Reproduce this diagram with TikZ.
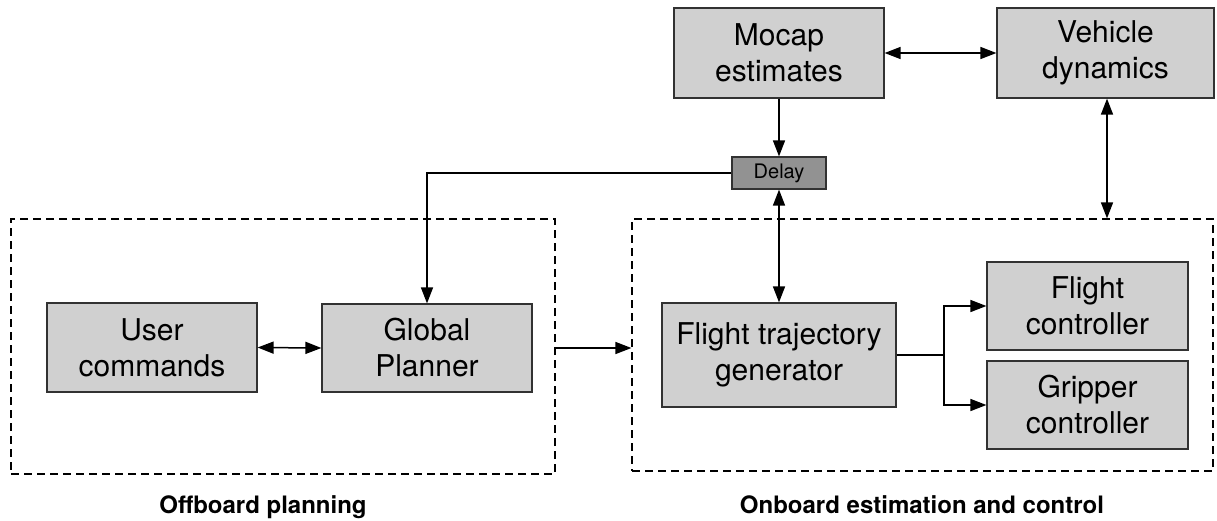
\documentclass[tikz,border=0pt]{standalone}
\usepackage{fontspec}
\setmainfont{TeX Gyre Heros}
\usetikzlibrary{arrows.meta}
\definecolor{boxfill}{RGB}{208,208,208}
\definecolor{delayfill}{RGB}{146,146,146}
\definecolor{boxline}{RGB}{50,50,50}
\begin{document}
\begin{tikzpicture}[x=1pt,y=-1pt,
  block/.style={draw=boxline,fill=boxfill,line width=1.2pt,inner sep=0pt,align=center,
    font=\fontsize{30}{36}\selectfont},
  delaybox/.style={draw=boxline,fill=delayfill,line width=1.2pt,inner sep=0pt,
    minimum width=94pt,minimum height=32pt,font=\fontsize{20}{24}\selectfont},
  frame/.style={draw=black,line width=1.2pt,dash pattern=on 8pt off 5pt,inner sep=0pt},
  conn/.style={line width=1.5pt,-{Triangle[length=16pt,width=12pt]}},
  bconn/.style={line width=1.5pt,{Triangle[length=16pt,width=12pt]}-{Triangle[length=16pt,width=12pt]}},
  caption/.style={font=\fontsize{24}{28}\selectfont\bfseries,anchor=base}]
\useasboundingbox (0,0) rectangle (1217,520);
% frames
\node[frame,minimum width=544pt,minimum height=255pt] (offbox) at (283,346.5) {};
\node[frame,minimum width=581pt,minimum height=252pt] (onbox) at (922.5,345) {};
% blocks
\node[block,minimum width=210pt,minimum height=90pt] (mocap) at (779,53) {Mocap\\estimates};
\node[block,minimum width=217pt,minimum height=90pt] (veh) at (1105.5,53) {Vehicle\\dynamics};
\node[delaybox] (delay) at (779,173) {Delay};
\node[block,minimum width=210pt,minimum height=89pt] (user) at (152,347.5) {User\\commands};
\node[block,minimum width=210pt,minimum height=88pt] (gp) at (427,348) {Global\\Planner};
\node[block,minimum width=234pt,minimum height=104pt] (ftg) at (779,355) {Flight trajectory\\generator};
\node[block,minimum width=201pt,minimum height=88pt] (fc) at (1087.5,306) {Flight\\controller};
\node[block,minimum width=201pt,minimum height=88pt] (gc) at (1087.5,405) {Gripper\\controller};
\coordinate (split) at (944,355);
% connectors
\draw[bconn] (mocap.east) -- (veh.west);
\draw[conn] (mocap.south) -- (delay.north);
\draw[conn] (delay.west) -| (gp.north);
\draw[bconn] (delay.south) -- (ftg.north);
\draw[bconn] (veh.south -| 1107,0) -- (onbox.north -| 1107,0);
\draw[bconn] (user.east) -- (gp.west);
\draw[conn] (offbox.east |- gp.east) -- (onbox.west |- gp.east);
\draw[line width=1.5pt] (ftg.east) -- (split);
\draw[conn] (split) |- (fc.west);
\draw[conn] (split) |- (gc.west);
% captions
\node[caption] (offcap) at (263,513) {Offboard planning};
\node[caption] (oncap) at (922,513) {Onboard estimation and control};
\end{tikzpicture}
\end{document}
